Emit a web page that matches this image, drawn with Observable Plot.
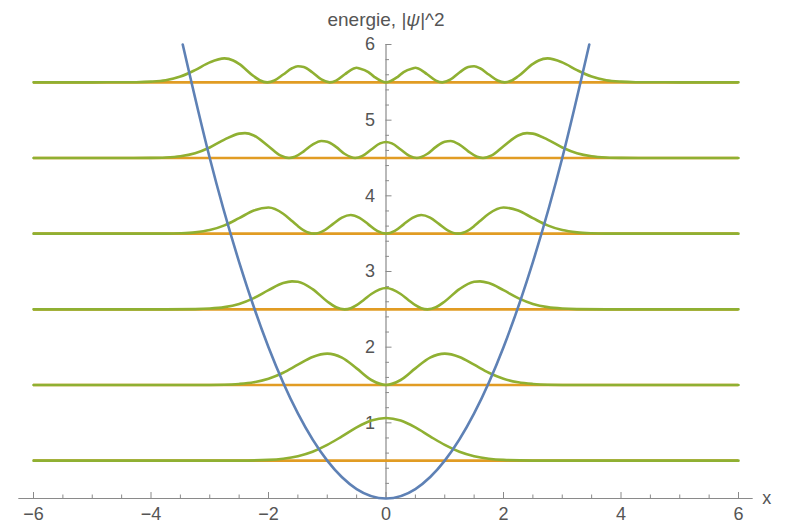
<!DOCTYPE html>
<html><head><meta charset="utf-8">
<script src="https://cdn.jsdelivr.net/npm/d3@7"></script>
<script src="https://cdn.jsdelivr.net/npm/@observablehq/plot@0.6"></script>
<style>body{margin:0;background:#fff}</style>
</head><body><div id="chart"></div>
<script>
// Energy levels (orange lines) and probability densities |psi|^2 (green), potential (blue)
const energies = [0.5, 1.5, 2.5, 3.5, 4.5, 5.5];

const x0 = [-6,-3,-2.5,-2,-1.75,-1.5,-1.25,-1,-0.75,-0.5,-0.25,0,0.25,0.5,0.75,1,1.25,1.5,1.75,2,2.5,3,6];
const h0 = [0,0,0.001,0.010,0.026,0.059,0.118,0.208,0.321,0.439,0.530,0.564,0.530,0.439,0.321,0.208,0.118,0.059,0.026,0.010,0.001,0,0];

const x1 = [-6,-3.25,-2.75,-2.5,-2.25,-2,-1.75,-1.5,-1.25,-1,-0.75,-0.5,-0.25,0,0.25,0.5,0.75,1,1.25,1.5,1.75,2,2.25,2.5,2.75,3.25,6];
const h1 = [0,0,0.004,0.014,0.036,0.083,0.162,0.268,0.370,0.415,0.362,0.220,0.066,0,0.066,0.220,0.362,0.415,0.370,0.268,0.162,0.083,0.036,0.014,0.004,0,0];

const x2 = [-6,-3.75,-3.25,-3,-2.75,-2.5,-2.25,-2,-1.75,-1.6,-1.5,-1.25,-1,-0.85,-0.707,-0.6,-0.5,-0.375,-0.25,0,0.25,0.375,0.5,0.6,0.707,0.85,1,1.25,1.5,1.6,1.75,2,2.25,2.5,2.75,3,3.25,3.75,6];
const h2 = [0,0,0.003,0.010,0.029,0.072,0.149,0.253,0.347,0.370,0.364,0.267,0.104,0.027,0,0.015,0.055,0.127,0.203,0.282,0.203,0.127,0.055,0.015,0,0.027,0.104,0.267,0.364,0.370,0.347,0.253,0.149,0.072,0.029,0.010,0.003,0,0];

const x3 = [-6,-4.25,-3.75,-3.5,-3.25,-3,-2.75,-2.5,-2.25,-2,-1.75,-1.6,-1.5,-1.4,-1.225,-1.05,-0.9,-0.75,-0.6,-0.45,-0.3,-0.15,0,0.15,0.3,0.45,0.6,0.75,0.9,1.05,1.225,1.4,1.5,1.6,1.75,2,2.25,2.5,2.75,3,3.25,3.5,3.75,4.25,6];
const h3 = [0,0,0.001,0.005,0.017,0.047,0.109,0.205,0.306,0.345,0.263,0.167,0.100,0.044,0,0.044,0.129,0.212,0.246,0.209,0.123,0.036,0,0.036,0.123,0.209,0.246,0.212,0.129,0.044,0,0.044,0.100,0.167,0.263,0.345,0.306,0.205,0.109,0.047,0.017,0.005,0.001,0,0];

const x4 = [-6,-4.5,-4,-3.75,-3.5,-3.25,-3,-2.75,-2.5,-2.4,-2.25,-2,-1.8,-1.651,-1.55,-1.4,-1.25,-1.1,-1,-0.85,-0.7,-0.525,-0.4,-0.25,-0.1,0,0.1,0.25,0.4,0.525,0.7,0.85,1,1.1,1.25,1.4,1.55,1.651,1.8,2,2.25,2.4,2.5,2.75,3,3.25,3.5,3.75,4,4.5,6];
const h4 = [0,0,0.002,0.007,0.023,0.063,0.139,0.243,0.322,0.329,0.298,0.156,0.034,0,0.016,0.088,0.177,0.225,0.216,0.147,0.053,0,0.028,0.113,0.193,0.212,0.193,0.113,0.028,0,0.053,0.147,0.216,0.225,0.177,0.088,0.016,0,0.034,0.156,0.298,0.329,0.322,0.243,0.139,0.063,0.023,0.007,0.002,0,0];

const x5 = [-6,-5,-4.5,-4.25,-4,-3.75,-3.5,-3.25,-3,-2.75,-2.6,-2.5,-2.25,-2.15,-2.02,-1.9,-1.75,-1.6,-1.5,-1.4,-1.25,-1.1,-0.959,-0.85,-0.7,-0.55,-0.5,-0.45,-0.3,-0.2,0,0.2,0.3,0.45,0.5,0.55,0.7,0.85,0.959,1.1,1.25,1.4,1.5,1.6,1.75,1.9,2.02,2.15,2.25,2.5,2.6,2.75,3,3.25,3.5,3.75,4,4.25,4.5,5,6];
const h5 = [0,0,0.0005,0.002,0.009,0.028,0.076,0.162,0.264,0.316,0.289,0.243,0.080,0.028,0,0.024,0.103,0.186,0.212,0.203,0.130,0.038,0,0.023,0.107,0.183,0.192,0.183,0.135,0.073,0,0.073,0.135,0.183,0.192,0.183,0.107,0.023,0,0.038,0.130,0.203,0.212,0.186,0.103,0.024,0,0.028,0.080,0.243,0.289,0.316,0.264,0.162,0.076,0.028,0.009,0.002,0.0005,0,0];

// Potential V(x) (blue curve)
const potX = [-3.46,-3,-2.5,-2,-1.5,-1,-0.5,0,0.5,1,1.5,2,2.5,3,3.46];
const potY = [6,4.5,3.125,2,1.125,0.5,0.125,0,0.125,0.5,1.125,2,3.125,4.5,6];

// Axis ticks and labels
const xMajorTicks = [-6,-4,-2,0,2,4,6];
const xMinorTicks = [-5.5,-5,-4.5,-3.5,-3,-2.5,-1.5,-1,-0.5,0.5,1,1.5,2.5,3,3.5,4.5,5,5.5];
const yMajorTicks = [1,2,3,4,5,6];
const yMinorTicks = [0.2,0.4,0.6,0.8,1.2,1.4,1.6,1.8,2.2,2.4,2.6,2.8,3.2,3.4,3.6,3.8,4.2,4.4,4.6,4.8,5.2,5.4,5.6,5.8];
const xLabel = "x";
const yLabel = "energie, |ψ|^2";

const levels = [[x0,h0],[x1,h1],[x2,h2],[x3,h3],[x4,h4],[x5,h5]];
const waves = levels.flatMap(([xs, hs], i) => xs.map((x, j) => ({x, y: energies[i] + hs[j], level: i})));
const potential = potX.map((x, i) => ({x, y: potY[i]}));

const axisColor = "#8a8a8a";
const textColor = "#555555";
const fmt = d => d < 0 ? "\u2212" + Math.abs(d) : String(d);

const chart = Plot.plot({
  width: 786, height: 523,
  marginLeft: 33, marginRight: 48, marginTop: 44, marginBottom: 25,
  x: {domain: [-6, 6], axis: null},
  y: {domain: [0, 6], axis: null},
  style: {fontFamily: "'Liberation Sans', Arial, sans-serif", fontSize: "18px", color: textColor, background: "white", overflow: "visible"},
  marks: [
    Plot.ruleY([0], {x1: -6.25, x2: 6.25, stroke: axisColor, strokeWidth: 1.2}),
    Plot.ruleX([0], {y1: 0, y2: 6, stroke: axisColor, strokeWidth: 1.2}),
    Plot.ruleX(xMajorTicks, {x: d => d, y1: 0, y2: 0, insetBottom: 6, stroke: axisColor}),
    Plot.ruleX(xMinorTicks, {x: d => d, y1: 0, y2: 0, insetBottom: 3.5, stroke: axisColor}),
    Plot.ruleY(yMajorTicks, {y: d => d, x1: 0, x2: 0, insetRight: -6, stroke: axisColor}),
    Plot.ruleY(yMinorTicks, {y: d => d, x1: 0, x2: 0, insetRight: -3.5, stroke: axisColor}),
    Plot.text(xMajorTicks, {x: d => d, y: 0, text: fmt, dy: 16, fill: textColor}),
    Plot.text(yMajorTicks, {x: 0, y: d => d, text: fmt, dx: -11, textAnchor: "end", fill: textColor}),
    Plot.text([yLabel], {x: 0, y: 6, text: d => d, dy: -25, fontSize: 19, fill: textColor, className: "ylabel"}),
    Plot.text([xLabel], {x: 6.25, y: 0, text: d => d, dx: 9, textAnchor: "start", fill: textColor}),
    Plot.ruleY(energies, {y: d => d, x1: -6, x2: 6, stroke: "#E19C24", strokeWidth: 2.6}),
    Plot.line(waves, {x: "x", y: "y", z: "level", stroke: "#8FB032", strokeWidth: 2.6, curve: "monotone-x"}),
    Plot.line(potential, {x: "x", y: "y", stroke: "#5E81B5", strokeWidth: 2.6, curve: "natural"})
  ]
});
// italic psi in the axis label, kept as real text
d3.select(chart).selectAll("g.ylabel text").each(function () {
  const t = d3.select(this);
  const s = t.text();
  const k = s.indexOf("ψ");
  if (k < 0) return;
  t.text(null);
  t.append("tspan").text(s.slice(0, k));
  t.append("tspan").attr("font-style", "italic").text("ψ");
  t.append("tspan").text(s.slice(k + 1));
});
document.getElementById("chart").appendChild(chart);
</script>
</body></html>
